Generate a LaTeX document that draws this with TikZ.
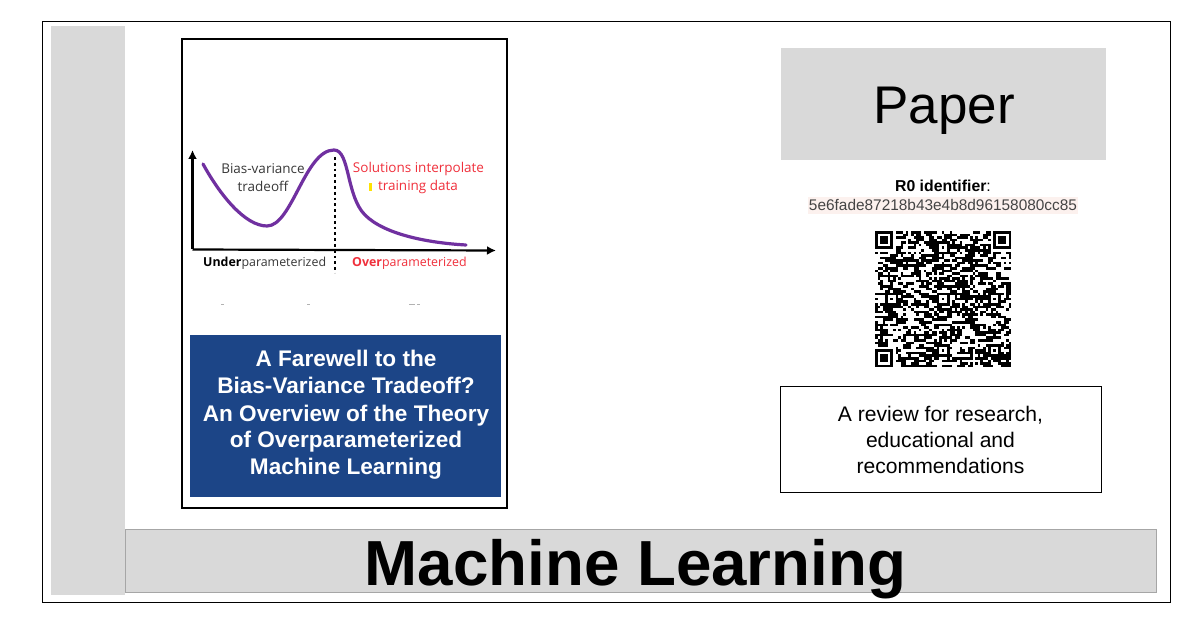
\documentclass[tikz,border=0pt]{standalone}
\usepackage{fontspec}
\setmainfont{Liberation Sans}
\newfontfamily\chartfont{Open Sans}
\definecolor{panelgray}{HTML}{D9D9D9}
\definecolor{titleblue}{HTML}{1C4587}
\definecolor{curvepurple}{HTML}{7030A0}
\definecolor{chartred}{HTML}{F0303C}
\definecolor{chartgray}{HTML}{383838}
\definecolor{hashpink}{HTML}{FCF1EE}
\definecolor{hashtext}{HTML}{444444}
\usetikzlibrary{arrows.meta}
\tikzset{
  panel/.style={fill=panelgray,draw=none,inner sep=0pt},
  chartlabel/.style={font=\chartfont\fontsize{13.5}{15}\selectfont,inner sep=0pt,anchor=center},
  axislabel/.style={font=\chartfont\fontsize{12.4}{15}\selectfont,inner sep=0pt,anchor=base west},
  titleline/.style={text=white,font=\bfseries\fontsize{22.6}{24}\selectfont,inner sep=0pt,anchor=base},
  reviewline/.style={font=\fontsize{21.1}{24}\selectfont,inner sep=0pt,anchor=base},
  axisline/.style={line width=2.2pt,-{Latex[length=9pt,width=9pt]}},
}
\newcommand{\qrsize}{2.57}
\newcommand{\qrcell}[2]{\fill[black] ({875+#1*\qrsize},{231+#2*\qrsize}) rectangle ++(\qrsize+0.05,\qrsize+0.05);}
\newcommand{\qrfinder}[2]{%
  \fill[white] ({875+(#1-1)*\qrsize},{231+(#2-1)*\qrsize}) rectangle ++(9*\qrsize,9*\qrsize);
  \fill[black] ({875+#1*\qrsize},{231+#2*\qrsize}) rectangle ++(7*\qrsize,7*\qrsize);
  \fill[white] ({875+(#1+1)*\qrsize},{231+(#2+1)*\qrsize}) rectangle ++(5*\qrsize,5*\qrsize);
  \fill[black] ({875+(#1+2)*\qrsize},{231+(#2+2)*\qrsize}) rectangle ++(3*\qrsize,3*\qrsize);}
\newcommand{\qralign}[2]{%
  \fill[black] ({875+(#1-2)*\qrsize},{231+(#2-2)*\qrsize}) rectangle ++(5*\qrsize,5*\qrsize);
  \fill[white] ({875+(#1-1)*\qrsize},{231+(#2-1)*\qrsize}) rectangle ++(3*\qrsize,3*\qrsize);
  \fill[black] ({875+#1*\qrsize},{231+#2*\qrsize}) rectangle ++(\qrsize,\qrsize);}
\begin{document}
\begin{tikzpicture}[x=1pt,y=-1pt]
\useasboundingbox (0,0) rectangle (1200,628);
\fill[white] (0,0) rectangle (1200,628);
% outer frame
\node[draw=black,line width=0.9pt,minimum width=1128pt,minimum height=581pt,inner sep=0pt,anchor=north west] (frame) at (42,21.2) {};
\node[panel,minimum width=74pt,minimum height=569pt,anchor=north west] (sidebar) at (51,26) {};
\node[panel,draw=gray!70,line width=0.6pt,minimum width=1031pt,minimum height=62.5pt,anchor=north west] (bottombar) at (125,529) {};
\node[font=\bfseries\fontsize{63.7}{70}\selectfont,inner sep=0pt,anchor=base] (field) at (635.5,585) {Machine Learning};
% poster
\node[draw=black,line width=1.8pt,minimum width=325.2pt,minimum height=469pt,inner sep=0pt,anchor=north west] (poster) at (180.8,38) {};
\node[fill=titleblue,minimum width=311pt,minimum height=162pt,inner sep=0pt,anchor=north west] (titlebox) at (190,335) {};
\node[titleline] (t1) at (346,366.5) {A Farewell to the};
\node[titleline] (t2) at (346,394) {Bias-Variance Tradeoff?};
\node[titleline] (t3) at (346,421) {An Overview of the Theory};
\node[titleline] (t4) at (346,447.5) {of Overparameterized};
\node[titleline] (t5) at (346,474) {Machine Learning};
% chart
\coordinate (origin) at (192.5,249.5);
\coordinate (ytop) at (192.5,150);
\coordinate (xend) at (496,250.5);
\coordinate (dtop) at (335,157);
\coordinate (dbot) at (335,273);
\draw[axisline] (origin) -- (ytop);
\draw[axisline] (origin) -- (xend);
\draw[line width=2.8pt,dash pattern=on 2.8pt off 3pt] (dtop) -- (dbot);
\draw[curvepurple,line width=3.2pt,line cap=round]
  (203,164) .. controls (220,195) and (245,226) .. (267,226)
  .. controls (292,226) and (305,150) .. (334,150)
  .. controls (350,150) and (346,196) .. (365,215)
  .. controls (385,235) and (430,243) .. (466,245);
\node[chartlabel,text=chartgray] (bv1) at (263,169) {Bias-variance};
\node[chartlabel,text=chartgray] (bv2) at (263,186) {tradeoff};
\node[chartlabel,text=chartred] (si1) at (418.5,169) {Solutions interpolate};
\node[chartlabel,text=chartred] (si2) at (418,187) {training data};
\fill[yellow!85!orange] (369,183) rectangle (371.5,191);
\node[axislabel,text=chartgray] (under) at (203,266.5) {{\bfseries\color{black}Under}parameterized};
\node[axislabel,text=chartred] (over) at (352,266.5) {{\bfseries Over}parameterized};
\foreach \sx in {221,307,409,412,417}{\fill[gray!60] (\sx,304) rectangle ++(2.5,0.8);}
% paper box
\node[panel,minimum width=325pt,minimum height=112pt,anchor=north west] (paperbox) at (781,48) {};
\node[font=\fontsize{53}{60}\selectfont,inner sep=0pt,anchor=base] (paper) at (944,124) {Paper};
% identifier
\node[font=\fontsize{15.8}{17}\selectfont,inner sep=0pt,anchor=base] (rid) at (943,192) {\textbf{R0 identifier}:};
\node[fill=hashpink,minimum width=270pt,minimum height=17pt,inner sep=0pt] (hashbg) at (943,205.5) {};
\node[text=hashtext,font=\fontsize{15.4}{17}\selectfont,inner sep=0pt,anchor=base] (hash) at (943,211) {5e6fade87218b43e4b8d96158080cc85};
% QR
\pgfmathsetseed{4711}
\foreach \qj in {0,...,52}{%
  \gdef\qprev{0}%
  \foreach \qi in {0,...,52}{%
    \pgfmathrandominteger{\qr}{0}{99}%
    \ifnum\qprev=1
      \ifnum\qr<68 \qrcell{\qi}{\qj}\gdef\qprev{1}\else\gdef\qprev{0}\fi
    \else
      \ifnum\qr<38 \qrcell{\qi}{\qj}\gdef\qprev{1}\else\gdef\qprev{0}\fi
    \fi}}
\qrfinder{0}{0}\qrfinder{46}{0}\qrfinder{0}{46}
\fill[white] (865,221) rectangle (875,377);
\fill[white] (875,221) rectangle (1021,231);
\fill[white] (1011.3,221) rectangle (1021,377);
\fill[white] (865,367.3) rectangle (1021,377);
\foreach \qa/\qb in {6/26,26/6,26/26,26/46,46/26,46/46}{\qralign{\qa}{\qb}}
% review box
\node[draw=black,line width=0.9pt,minimum width=321pt,minimum height=106pt,inner sep=0pt,anchor=north west] (reviewbox) at (780.2,386.3) {};
\node[reviewline] (r1) at (940.5,421) {A review for research,};
\node[reviewline] (r2) at (940.5,447) {educational and};
\node[reviewline] (r3) at (940.5,473) {recommendations};
\end{tikzpicture}
\end{document}
